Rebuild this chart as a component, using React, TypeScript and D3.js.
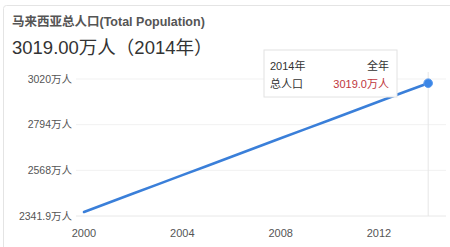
import React from "react";
import * as d3 from "d3";

const years = [2000, 2001, 2002, 2003, 2004, 2005, 2006, 2007, 2008, 2009, 2010, 2011, 2012, 2013, 2014];
const population = [2341.9, 2390.5, 2438.8, 2487.2, 2535.6, 2584.0, 2632.4, 2680.7, 2729.1, 2777.5, 2825.8, 2874.3, 2922.6, 2970.9, 3019.0];
const yTickLabels = ["2341.9万人", "2568万人", "2794万人", "3020万人"];
const yTickValues = [2341.9, 2568, 2794, 3020];
const xTickValues = [2000, 2004, 2008, 2012];
const title = "马来西亚总人口(Total Population)";
const headline = "3019.00万人（2014年）";
const tipYear = "2014年";
const tipPeriod = "全年";
const tipName = "总人口";
const tipValue = "3019.0万人";

const FONT = "Arial, 'Liberation Sans', 'Noto Sans CJK SC', sans-serif";

export default function App() {
  const W = 450, H = 247;
  const gridTop = 79, gridBottom = 216, pad = 4;
  const x = d3.scaleLinear().domain([2000, 2012]).range([84, 379]);
  const yGrid = d3.scaleLinear().domain([2341.9, 3020]).range([gridBottom, gridTop]);
  const y = d3.scaleLinear().domain([2341.9, 3020]).range([gridBottom - pad, gridTop + pad]);
  const line = d3.line<number>().x((_, i) => x(years[i])).y((d) => y(d));
  const lastX = x(years[years.length - 1]);
  const lastY = y(population[population.length - 1]);
  return (
    <svg width={W} height={H} style={{ position: "absolute", left: 0, top: 0, background: "#fff" }}>
      <rect x={3.5} y={5.5} width={470} height={270} rx={3} fill="#fff" stroke="#e4e4e4" />
      <text x={12} y={26} fontFamily={FONT} fontSize={12.5} fontWeight="bold" fill="#555">{title}</text>
      <text x={12} y={54} fontFamily={FONT} fontSize={18.5} fill="#333">{headline}</text>
      {yTickValues.map((v, i) => (
        <g key={v}>
          <line x1={76} x2={446} y1={yGrid(v)} y2={yGrid(v)} stroke={i === 0 ? "#e8e8e8" : "#f1f1f1"} strokeWidth={1} />
          <text x={72} y={yGrid(v)} dy="0.35em" textAnchor="end" fontFamily={FONT} fontSize={10.5} fill="#555">{yTickLabels[i]}</text>
        </g>
      ))}
      {xTickValues.map((v) => (
        <text key={v} x={x(v)} y={233} dy="0.35em" textAnchor="middle" fontFamily={FONT} fontSize={11} fill="#555">{v}</text>
      ))}
      <line x1={lastX} x2={lastX} y1={72} y2={gridBottom} stroke="#e6e6e6" strokeWidth={1} />
      <path d={line(population) || ""} fill="none" stroke="#3a7fd9" strokeWidth={2.6} strokeLinecap="round" />
      <circle cx={lastX} cy={lastY} r={4.3} fill="#3b86e6" stroke="#5a9bef" strokeWidth={1} />
      <g>
        <rect x={264} y={50} width={133} height={47} fill="#fff" fillOpacity={0.96} stroke="#e2e2e2" />
        <text x={270} y={66} dy="0.35em" fontFamily={FONT} fontSize={11} fill="#333">{tipYear}</text>
        <text x={389} y={66} dy="0.35em" textAnchor="end" fontFamily={FONT} fontSize={11} fill="#333">{tipPeriod}</text>
        <text x={270} y={84} dy="0.35em" fontFamily={FONT} fontSize={11} fill="#333">{tipName}</text>
        <text x={389} y={84} dy="0.35em" textAnchor="end" fontFamily={FONT} fontSize={11} fill="#c0363d">{tipValue}</text>
      </g>
    </svg>
  );
}
